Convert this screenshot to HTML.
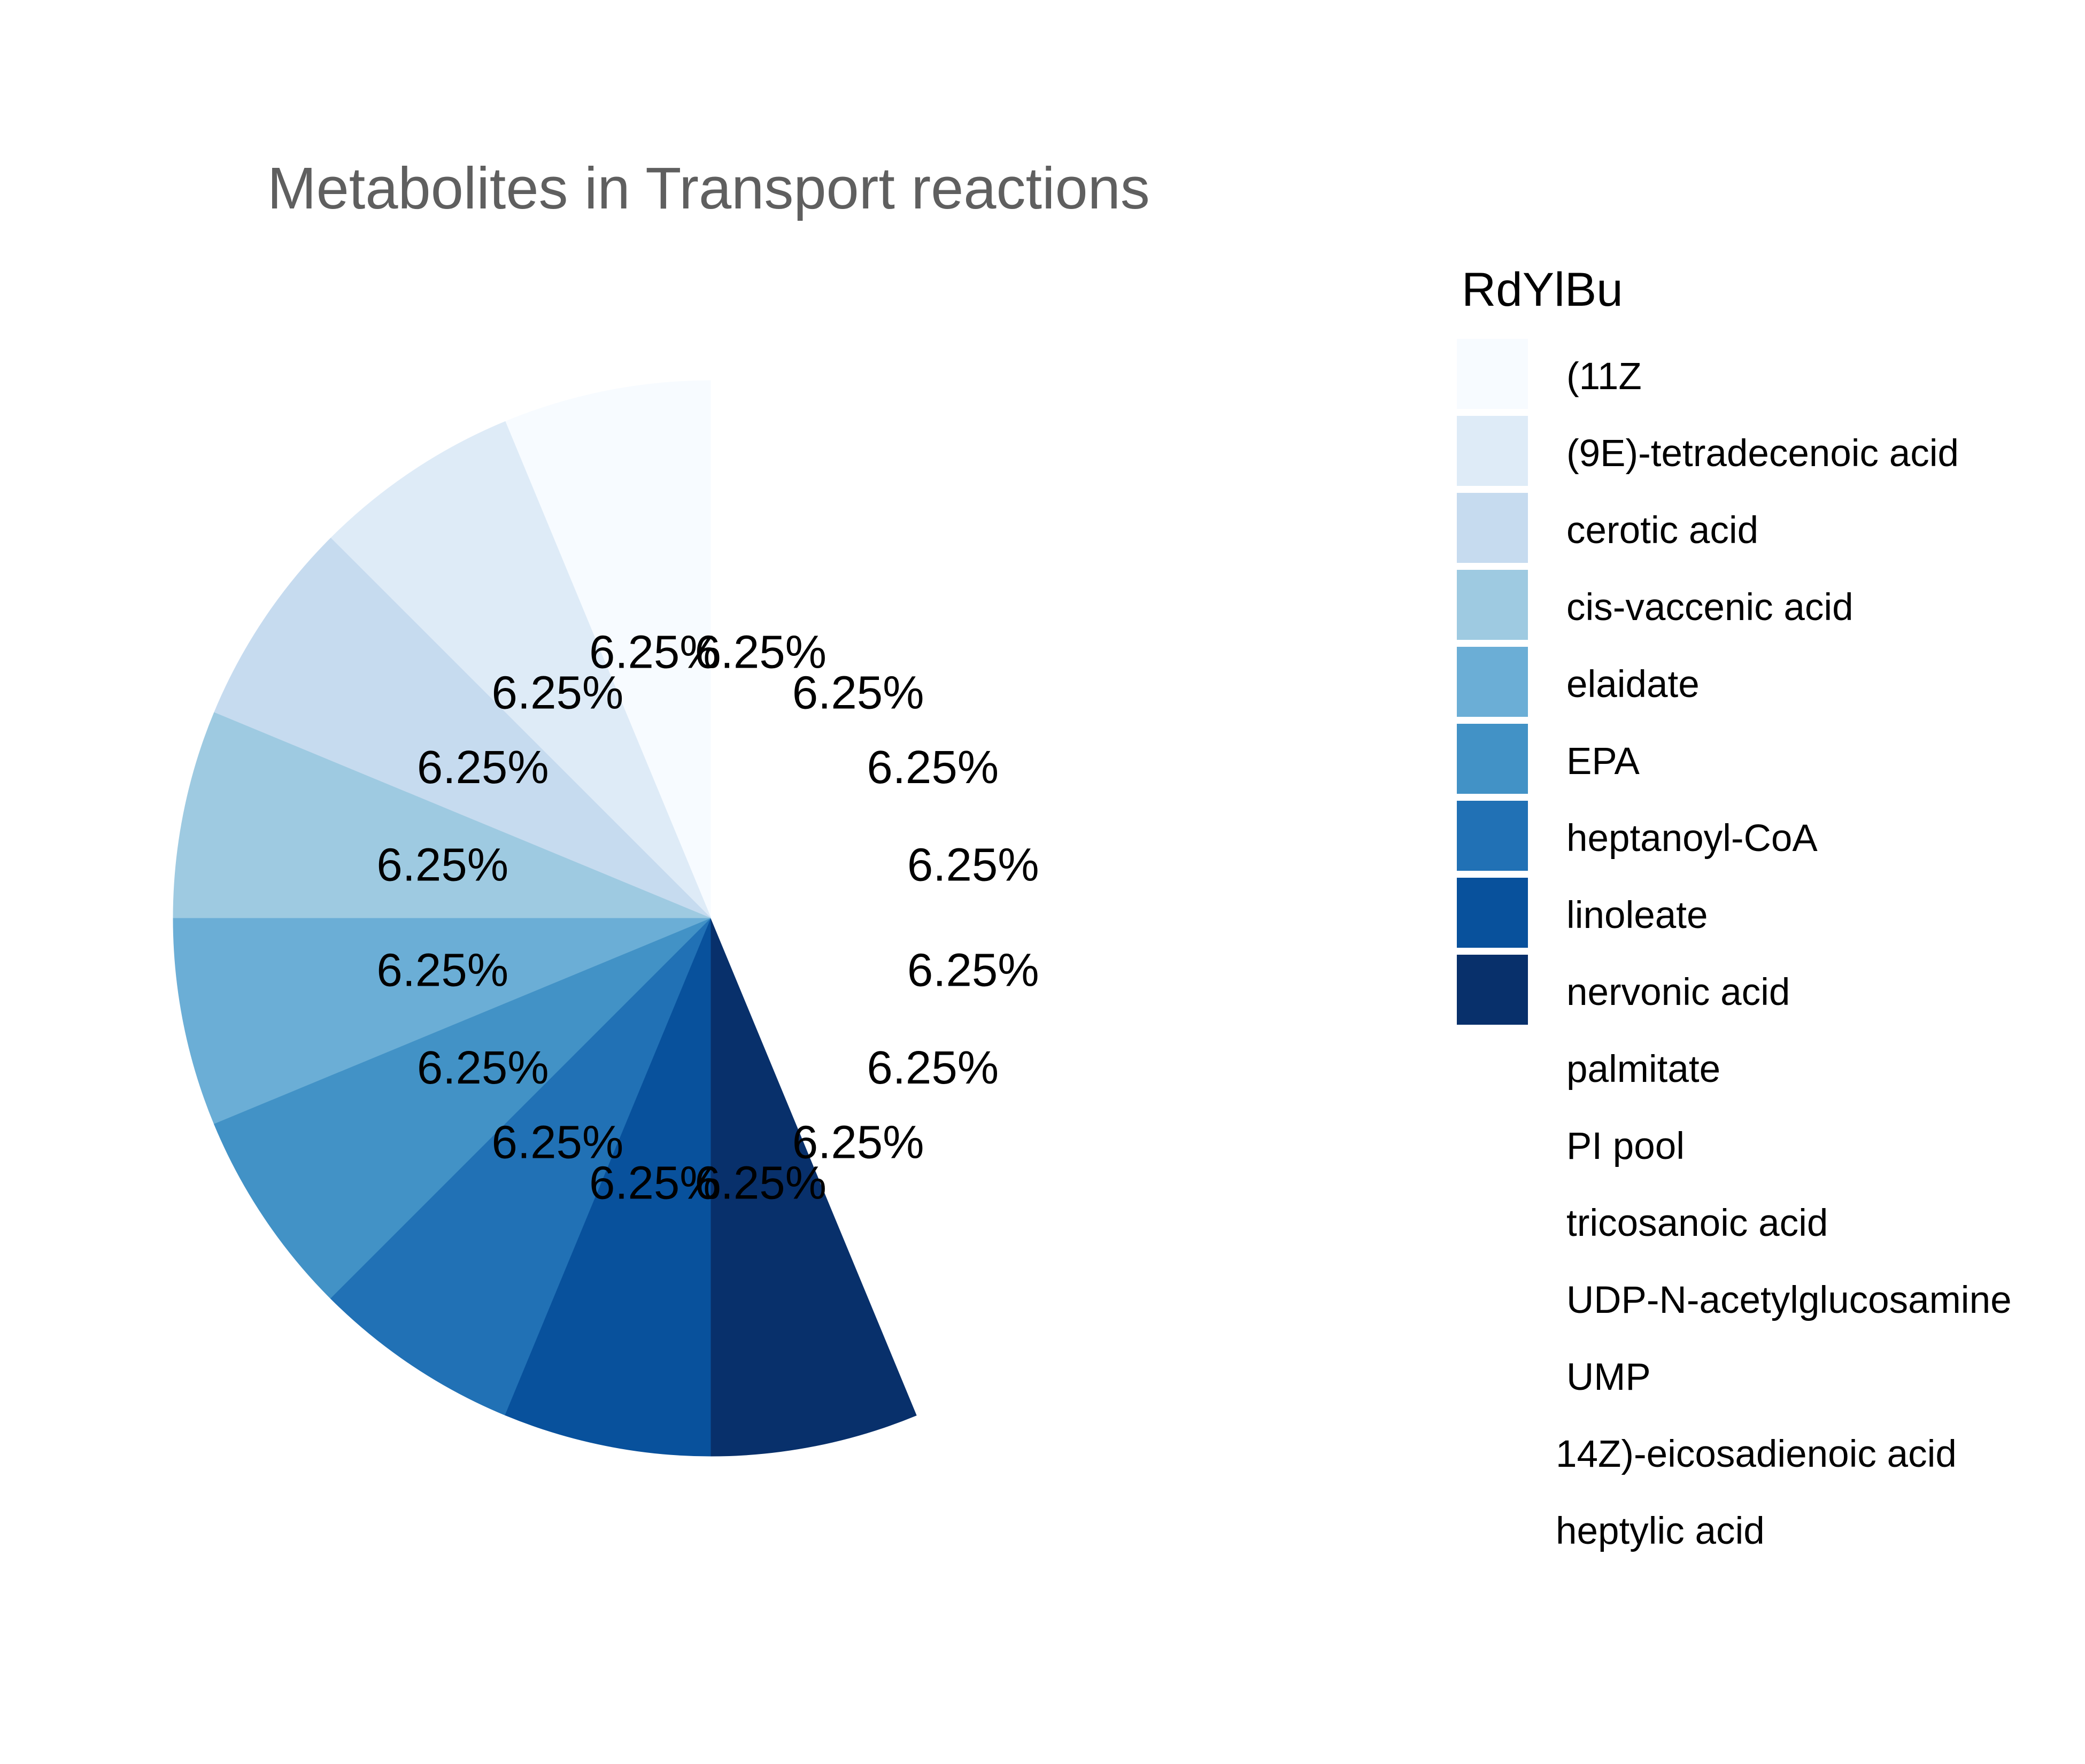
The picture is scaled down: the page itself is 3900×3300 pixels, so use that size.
<!DOCTYPE html>
<html><head><meta charset="utf-8"><style>
html,body{margin:0;padding:0;background:#fff;}
svg{display:block;font-family:"Liberation Sans",Arial,sans-serif;}
</style></head><body>
<svg id="chart" width="3900" height="3300" viewBox="0 0 3900 3300" xmlns="http://www.w3.org/2000/svg">
<rect width="3900" height="3300" fill="#fff"/>
<text x="500" y="390" font-size="110" fill="#5f5f5f">Metabolites in Transport reactions</text>
<g id="slices"></g>
<g id="labels"></g>
<g id="legend">
<text x="2734" y="572" font-size="89" fill="#000">RdYlBu</text>
</g>
</svg>
<script>
const categories = ["(11Z","(9E)-tetradecenoic acid","cerotic acid","cis-vaccenic acid","elaidate","EPA","heptanoyl-CoA","linoleate","nervonic acid","palmitate","PI pool","tricosanoic acid","UDP-N-acetylglucosamine","UMP","14Z)-eicosadienoic acid","heptylic acid"];
const values = [1,1,1,1,1,1,1,1,1,1,1,1,1,1,1,1];
const labelTexts = ["6.25%","6.25%","6.25%","6.25%","6.25%","6.25%","6.25%","6.25%","6.25%","6.25%","6.25%","6.25%","6.25%","6.25%","6.25%","6.25%"];
const colors = ["#f7fbff","#deebf7","#c6dbef","#9ecae1","#6baed6","#4292c6","#2171b5","#08519c","#08306b","#ffffff","#ffffff","#ffffff","#ffffff","#ffffff","#ffffff","#ffffff"];

const NS="http://www.w3.org/2000/svg";
const cx=1330, cy=1718, R=1006, LR=506;
const total=values.reduce((a,b)=>a+b,0);
function pt(frac,r){const a=-Math.PI/2-frac*2*Math.PI;return [cx+r*Math.cos(a),cy+r*Math.sin(a)];}
const sg=document.getElementById('slices'), lg=document.getElementById('labels'), leg=document.getElementById('legend');
let cum=0;
values.forEach((v,i)=>{
  const f0=cum/total, f1=(cum+v)/total; cum+=v;
  const p0=pt(f0,R), p1=pt(f1,R);
  const large=(f1-f0)>0.5?1:0;
  const p=document.createElementNS(NS,'path');
  p.setAttribute('d',`M${cx},${cy}L${p0[0]},${p0[1]}A${R},${R} 0 ${large} 0 ${p1[0]},${p1[1]}Z`);
  p.setAttribute('fill',colors[i]);
  p.setAttribute('stroke',colors[i]);
  p.setAttribute('stroke-width','1');
  
  
  sg.appendChild(p);
  const lp=pt((f0+f1)/2,LR);
  const t=document.createElementNS(NS,'text');
  t.setAttribute('x',lp[0]-6);t.setAttribute('y',lp[1]+28);
  t.setAttribute('text-anchor','middle');t.setAttribute('font-size','87');
  t.textContent=labelTexts[i];
  
  
  lg.appendChild(t);
  const y0=634+i*144;
  const r=document.createElementNS(NS,'rect');
  r.setAttribute('x',2725);r.setAttribute('y',y0);r.setAttribute('width',133);r.setAttribute('height',131);
  r.setAttribute('fill',colors[i]);
  
  
  leg.appendChild(r);
  const lt=document.createElementNS(NS,'text');
  lt.setAttribute('x',i>=14?2910:2930);lt.setAttribute('y',y0+94);
  lt.setAttribute('font-size','71');
  lt.textContent=categories[i];
  
  
  leg.appendChild(lt);
});
</script>
</body></html>
